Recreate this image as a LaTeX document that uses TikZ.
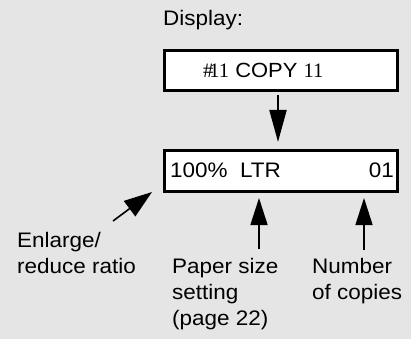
\documentclass[tikz,border=0pt]{standalone}
\usepackage{fontspec}
\setmainfont{Liberation Sans}[FakeStretch=1.07]
\newfontfamily\serifdisp{Liberation Serif}[FakeStretch=1.0]
\usetikzlibrary{arrows.meta}
\definecolor{bggray}{RGB}{229,229,229}
\begin{document}
\begin{tikzpicture}[x=1pt,y=-1pt,
  lbl/.style={anchor=base west, inner sep=0pt, font=\fontsize{21}{26}\selectfont},
  dispbox/.style={draw, line width=3pt, fill=white, minimum width=233pt, minimum height=40pt, inner sep=0pt, outer sep=0pt},
  bigarr/.style={line width=2pt, -{Triangle[length=32pt,width=17pt]}},
  uparr/.style={line width=1.6pt, -{Triangle[length=27pt,width=17pt]}}]
\fill[bggray] (0,0) rectangle (411,339);
\useasboundingbox (0,0) rectangle (411,339);
% display label
\node[lbl] (disp) at (163,26) {Display:};
% boxes
\node[dispbox] (top) at (281,70.5) {};
\node[dispbox, minimum height=41pt] (bot) at (281,171) {};
% box texts
\node[lbl, font=\fontsize{20.5}{24}\selectfont] (t1) at (203,77.5) {{\serifdisp\#\kern-4pt 11} COPY {\serifdisp 11}};
\node[lbl] (t2) at (170,177.5) {100\%\ \ LTR};
\node[anchor=base east, inner sep=0pt, font=\fontsize{21}{26}\selectfont] (t3) at (394,177.5) {01};
% labels
\node[lbl] (en1) at (17,247) {Enlarge/};
\node[lbl] (en2) at (17,273) {reduce ratio};
\node[lbl] (ps1) at (172,273) {Paper size};
\node[lbl] (ps2) at (172,299) {setting};
\node[lbl] (ps3) at (172,325) {(page 22)};
\node[lbl] (nc1) at (312,273) {Number};
\node[lbl] (nc2) at (312,299) {of copies};
% connectors
\coordinate (dx) at (278,0);
\draw[bigarr, shorten <=4.5pt, shorten >=8.5pt] (top.south -| dx) -- (bot.north -| dx);
\coordinate (etail) at (113,221);
\coordinate (etip) at (152,192);
\draw[uparr, -{Triangle[length=28pt,width=19pt]}] (etail) -- (etip);
\coordinate (pstail) at (259,249);
\coordinate (nctail) at (364,250);
\draw[uparr, shorten >=6.5pt] (pstail) -- (pstail |- bot.south);
\draw[uparr, shorten >=6.5pt] (nctail) -- (nctail |- bot.south);
\end{tikzpicture}
\end{document}
